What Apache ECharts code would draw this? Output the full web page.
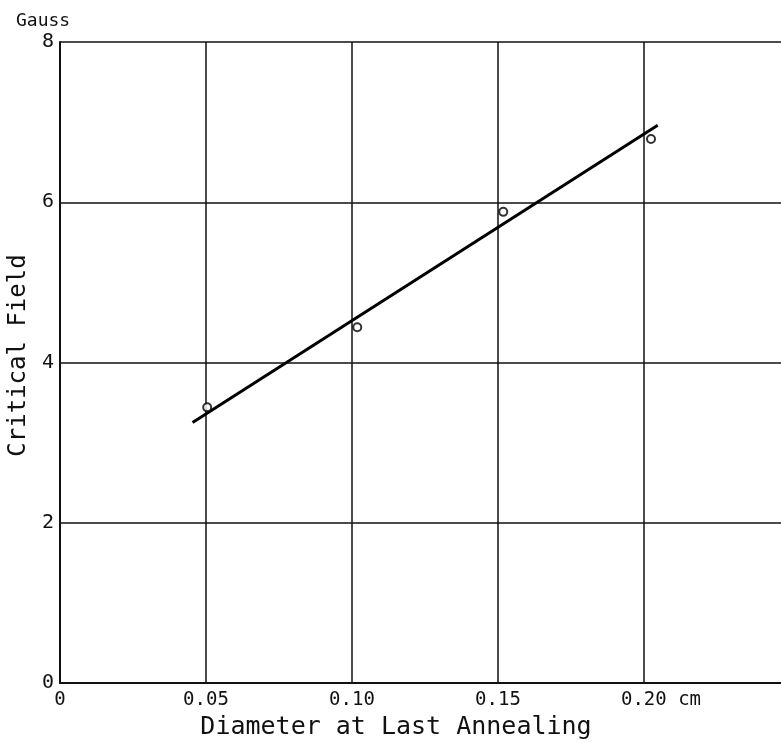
<!DOCTYPE html>
<html>
<head>
<meta charset="utf-8">
<script src="https://cdn.jsdelivr.net/npm/echarts@6/dist/echarts.min.js"></script>
<style>
  html, body { margin: 0; padding: 0; background: #fff; }
  #chart { width: 781px; height: 742px; }
</style>
</head>
<body>
<div id="chart"></div>
<script>
// measured points (diameter in cm, critical field in gauss)
const diameters = [0.0504, 0.1018, 0.1518, 0.2024];
const fields = [3.44, 4.44, 5.88, 6.79];
// ends of the drawn straight line
const fitX = [0.0454, 0.2047];
const fitY = [3.25, 6.96];

const font = 'DejaVu Sans Mono';
const myChart = echarts.init(document.getElementById('chart'));

const option = {
  backgroundColor: '#fff',
  animation: false,
  title: {
    text: 'Gauss',
    left: 11,
    top: 7,
    textStyle: { fontFamily: font, fontSize: 18, fontWeight: 'normal', color: '#111' }
  },
  grid: { left: 60, top: 42, width: 730, height: 641, outerBoundsMode: 'none', containLabel: false },
  xAxis: {
    type: 'value',
    min: 0,
    max: 0.25,
    interval: 0.05,
    name: 'Diameter at Last Annealing',
    nameLocation: 'middle',
    nameGap: 25,
    nameTextStyle: { fontFamily: font, fontSize: 25, color: '#111', padding: [0, 58, 0, 0] },
    axisLine: { lineStyle: { color: '#111', width: 2 } },
    axisTick: { show: false },
    splitLine: { lineStyle: { color: '#111', width: 1.5 } },
    axisLabel: {
      fontFamily: font,
      fontSize: 19,
      color: '#111',
      margin: 8,
      formatter: v => {
        if (v === 0) return '0';
        if (v > 0.24) return '';
        if (Math.abs(v - 0.2) < 1e-9) return '{p|}0.20 cm';
        return v.toFixed(2);
      },
      rich: { p: { width: 34 } }
    }
  },
  yAxis: {
    type: 'value',
    min: 0,
    max: 8,
    interval: 2,
    name: 'Critical Field',
    nameLocation: 'middle',
    nameGap: 20,
    nameTextStyle: { fontFamily: font, fontSize: 24, color: '#111', padding: [0, 0, 0, 14] },
    axisLine: { show: true, lineStyle: { color: '#111', width: 2 } },
    axisTick: { show: false },
    splitLine: { lineStyle: { color: '#111', width: 1.5 } },
    axisLabel: { fontFamily: font, fontSize: 20, color: '#111', margin: 6 }
  },
  series: [
    {
      type: 'line',
      data: fitX.map((x, i) => [x, fitY[i]]),
      showSymbol: false,
      lineStyle: { color: '#000', width: 3 },
      z: 3
    },
    {
      type: 'scatter',
      data: diameters.map((x, i) => [x, fields[i]]),
      symbol: 'emptyCircle',
      symbolSize: 8,
      itemStyle: { color: '#000', borderColor: '#000', borderWidth: 1.5 },
      z: 4
    }
  ]
};

myChart.setOption(option);
</script>
</body>
</html>
